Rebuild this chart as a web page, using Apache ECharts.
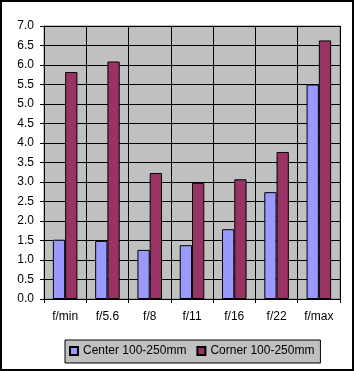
<!DOCTYPE html>
<html><head><meta charset="utf-8">
<script src="https://cdn.jsdelivr.net/npm/echarts@6/dist/echarts.min.js"></script>
<style>
html,body{margin:0;padding:0;background:#fff;}
#frame{position:absolute;left:0;top:0;width:354px;height:371px;border:2px solid #000;box-sizing:border-box;}
#chart{position:absolute;left:0;top:0;width:355px;height:371px;}
</style></head>
<body>
<div id="frame"></div>
<div id="chart"></div>
<script>
const categories = ['f/min','f/5.6','f/8','f/11','f/16','f/22','f/max'];
const centerValues = [1.52, 1.49, 1.26, 1.38, 1.79, 2.74, 5.50];
const cornerValues = [5.82, 6.09, 3.23, 2.98, 3.07, 3.77, 6.63];
const seriesNames = ['Center 100-250mm','Corner 100-250mm'];

const chart = echarts.init(document.getElementById('chart'), null, {renderer:'canvas'});
const font = 'Liberation Sans, Arial, sans-serif';
chart.setOption({
  animation:false,
  textStyle:{fontFamily:font},
  grid:{left:44,right:15,top:26,bottom:72,show:true,backgroundColor:'#c0c0c0',borderColor:'#808080',borderWidth:1},
  legend:{
    data:seriesNames,left:65,top:340,
    backgroundColor:'#c0c0c0',borderColor:'#000',borderWidth:1,
    padding:[5,6,6,4],itemGap:10,itemWidth:8,itemHeight:8,icon:'rect',
    textStyle:{fontFamily:font,fontSize:12,color:'#000'}
  },
  xAxis:{
    type:'category',data:categories,
    axisLine:{lineStyle:{color:'#000',width:1}},
    axisTick:{show:true,length:4,lineStyle:{color:'#000'}},
    splitLine:{show:true,lineStyle:{color:'#000',width:1}},
    axisLabel:{color:'#000',fontSize:12,fontFamily:font,margin:12}
  },
  yAxis:{
    type:'value',min:0,max:7,interval:0.5,
    axisLine:{show:true,lineStyle:{color:'#000',width:1}},
    axisTick:{show:true,length:4,lineStyle:{color:'#000'}},
    splitLine:{show:true,lineStyle:{color:'#000',width:1}},
    axisLabel:{color:'#000',fontSize:12,fontFamily:font,margin:10,formatter:v=>v.toFixed(1)}
  },
  series:[
    {name:seriesNames[0],type:'bar',data:centerValues,barGap:'0%',barCategoryGap:'42%',
     itemStyle:{color:'#9999ff',borderColor:'#000',borderWidth:1}},
    {name:seriesNames[1],type:'bar',data:cornerValues,barGap:'0%',barCategoryGap:'42%',
     itemStyle:{color:'#993366',borderColor:'#000',borderWidth:1}}
  ]
});
</script>
</body></html>
